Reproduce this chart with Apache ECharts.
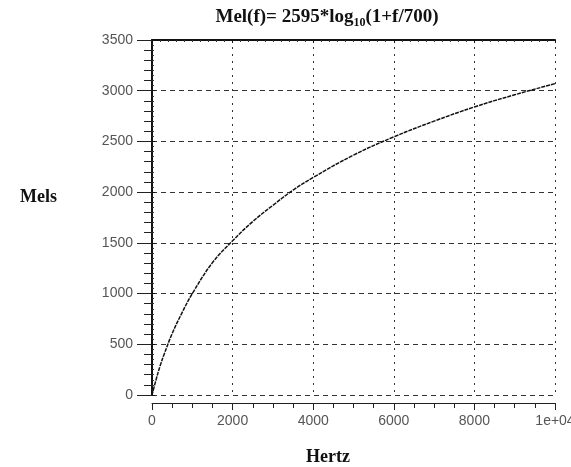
<!DOCTYPE html>
<html>
<head>
<meta charset="utf-8">
<script src="https://cdn.jsdelivr.net/npm/echarts@6/dist/echarts.min.js"></script>
<style>
  html, body { margin: 0; padding: 0; background: #fff; }
  #chart { width: 571px; height: 467px; }
</style>
</head>
<body>
<div id="chart"></div>
<script>
// Frequency samples (Hz) and the corresponding mel values along the curve
var hertz = [0, 100, 200, 300, 500, 750, 1000, 1500, 2000, 2500, 3000, 3500, 4000, 5000, 6000, 7000, 8000, 9000, 10000];
var mels  = [0, 150, 285, 400, 605, 815, 1000, 1305, 1520, 1710, 1870, 2020, 2145, 2365, 2545, 2700, 2840, 2960, 3070];

// Axis ranges and tick steps
var xMin = 0, xMax = 10000, xStep = 2000;
var yMin = 0, yMax = 3500, yStep = 500;

var points = hertz.map(function (f, i) { return [f, mels[i]]; });

var serif = 'Liberation Serif, Times New Roman, serif';
var sans = 'Liberation Sans, Arial, sans-serif';

var chart = echarts.init(document.getElementById('chart'));
chart.setOption({
  animation: false,
  backgroundColor: '#ffffff',
  title: {
    text: '{a|Mel(f)= 2595*log}{s|10}{a|(1+f/700)}',
    left: 322,
    textAlign: 'center',
    top: 0,
    textStyle: {
      rich: {
        a: { fontFamily: serif, fontWeight: 'bold', fontSize: 19, color: '#111', lineHeight: 24 },
        s: { fontFamily: serif, fontWeight: 'bold', fontSize: 12, color: '#111', lineHeight: 12, verticalAlign: 'bottom' }
      }
    }
  },
  graphic: [
    { type: 'text', left: 20, top: 188, style: { text: 'Mels', font: 'bold 18px ' + serif, fill: '#111' } },
    { type: 'text', left: 306, top: 448, style: { text: 'Hertz', font: 'bold 18px ' + serif, fill: '#111' } }
  ],
  grid: { left: 152, right: 16, top: 40, bottom: 72, containLabel: false, outerBoundsMode: 'none' },
  xAxis: [
    {
      type: 'value', min: xMin, max: xMax, interval: xStep, offset: 8,
      axisLine: { show: true, onZero: false, lineStyle: { color: '#222', width: 1 } },
      axisTick: { show: true, length: 7, inside: false, lineStyle: { color: '#222' } },
      minorTick: { show: true, splitNumber: 4, length: 5, lineStyle: { color: '#222' } },
      axisLabel: {
        margin: 11, color: '#555', fontFamily: sans, fontSize: 14,
        formatter: function (v) { return v === 10000 ? '1e+04' : String(v); }
      },
      splitLine: { show: true, lineStyle: { color: '#333', width: 1, type: [2, 5] } }
    },
    {
      // top frame edge with small inward marks
      type: 'value', position: 'top', min: xMin, max: xMax, interval: xStep,
      axisLine: { show: true, onZero: false, lineStyle: { color: '#111', width: 2 } },
      axisTick: { show: true, inside: true, length: 3, lineStyle: { color: '#111' } },
      minorTick: { show: true, splitNumber: 10, length: 2, lineStyle: { color: '#333' } },
      axisLabel: { show: false },
      splitLine: { show: false }
    }
  ],
  yAxis: [
    {
      type: 'value', min: yMin, max: yMax, interval: yStep,
      axisLine: { show: true, onZero: false, lineStyle: { color: '#111', width: 2 } },
      axisTick: { show: true, length: 15, lineStyle: { color: '#222' } },
      minorTick: { show: true, splitNumber: 5, length: 8, lineStyle: { color: '#222' } },
      axisLabel: {
        margin: 19, color: '#555', fontFamily: sans, fontSize: 14,
        formatter: function (v) { return String(v); }
      },
      splitLine: { show: true, lineStyle: { color: '#333', width: 1, type: [5, 4] } }
    },
    {
      // dotted inner edge along the left frame
      type: 'value', position: 'left', min: yMin, max: yMax, interval: yStep,
      axisLine: { show: false, onZero: false },
      axisTick: { show: true, inside: true, length: 3, lineStyle: { color: '#111' } },
      minorTick: { show: true, splitNumber: 10, length: 2, lineStyle: { color: '#333' } },
      axisLabel: { show: false },
      splitLine: { show: false }
    }
  ],
  series: [{
    type: 'line',
    data: points,
    xAxisIndex: 0,
    yAxisIndex: 0,
    smooth: 0.4,
    showSymbol: false,
    lineStyle: { color: '#111', width: 1.5, type: [4, 1] }
  }]
});
</script>
</body>
</html>
